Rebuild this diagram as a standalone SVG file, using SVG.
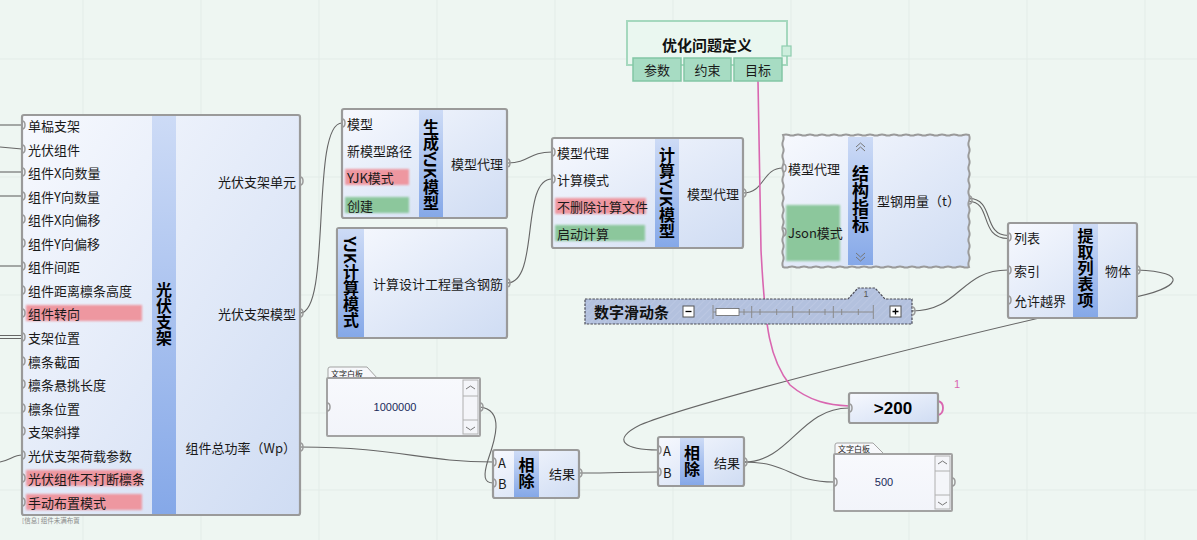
<svg xmlns="http://www.w3.org/2000/svg" width="1197" height="540" viewBox="0 0 1197 540">
<defs>
<linearGradient id="bodyG" x1="0" y1="0" x2="1" y2="1">
<stop offset="0" stop-color="#f7f9fe"/><stop offset="1" stop-color="#cfdcf3"/>
</linearGradient>
<linearGradient id="bandG" x1="0" y1="0" x2="0" y2="1">
<stop offset="0" stop-color="#cddbf6"/><stop offset="1" stop-color="#85a8e8"/>
</linearGradient>
<linearGradient id="panelG" x1="0" y1="0" x2="0" y2="1">
<stop offset="0" stop-color="#f8f9fd"/><stop offset="1" stop-color="#f2f4fa"/>
</linearGradient>
<pattern id="hatch" width="5" height="5" patternUnits="userSpaceOnUse" patternTransform="rotate(45)">
<rect width="5" height="5" fill="#b3c1de"/>
<line x1="0" y1="0" x2="0" y2="5" stroke="#c0cce5" stroke-width="1.2"/>
</pattern>
<filter id="soft" x="-10%" y="-30%" width="120%" height="160%"><feGaussianBlur stdDeviation="1.2"/></filter>
<style>
.t{font-family:"Noto Sans CJK SC","Noto Sans",sans-serif;font-size:13px;fill:#1a1a1a;dominant-baseline:central}
.e{text-anchor:end}
.m{text-anchor:middle}
.ttl{font-family:"Noto Sans CJK SC","Noto Sans",sans-serif;font-weight:bold;font-size:16px;fill:#000;writing-mode:vertical-rl;text-anchor:middle}
.body{fill:url(#bodyG);stroke:#9a9a9a;stroke-width:2.2}
.band{fill:url(#bandG)}
.red{fill:#ee97a0;filter:url(#soft)}
.grn{fill:#8cc79c;filter:url(#soft)}
.port{fill:none;stroke:#9a9a9a;stroke-width:1.5}
.w{fill:none;stroke:#666;stroke-width:1.1}
.grid{stroke:#e3ece8;stroke-width:1}
.tab{fill:#a7dcc3;stroke:#82c6a5;stroke-width:1.5}
.chev{fill:none;stroke:#777;stroke-width:1}
.pbody{fill:url(#panelG);stroke:#a3a3a3;stroke-width:2}
.ptab{fill:#f7f8fb;stroke:#a3a3a3;stroke-width:1}
.small{font-family:"Noto Sans CJK SC","Noto Sans",sans-serif;font-size:8px;fill:#222;dominant-baseline:central}
</style>
</defs>
<rect width="1197" height="540" fill="#eef6f2"/>
<g id="grid">
<line class="grid" x1="83" y1="0" x2="83" y2="540"/><line class="grid" x1="201" y1="0" x2="201" y2="540"/>
<line class="grid" x1="319" y1="0" x2="319" y2="540"/><line class="grid" x1="437" y1="0" x2="437" y2="540"/>
<line class="grid" x1="555" y1="0" x2="555" y2="540"/><line class="grid" x1="673" y1="0" x2="673" y2="540"/>
<line class="grid" x1="791" y1="0" x2="791" y2="540"/><line class="grid" x1="909" y1="0" x2="909" y2="540"/>
<line class="grid" x1="1027" y1="0" x2="1027" y2="540"/><line class="grid" x1="1145" y1="0" x2="1145" y2="540"/>
<line class="grid" x1="0" y1="59" x2="1197" y2="59"/><line class="grid" x1="0" y1="177" x2="1197" y2="177"/>
<line class="grid" x1="0" y1="295" x2="1197" y2="295"/><line class="grid" x1="0" y1="413" x2="1197" y2="413"/>
<line class="grid" x1="0" y1="490" x2="1197" y2="490"/>
</g>

<g id="connectors">
<path class="w" d="M0,125 H22"/>
<path class="w" d="M0,147 L22,149"/>
<path class="w" d="M0,172 H22"/>
<path class="w" d="M0,196 H22"/>
<path class="w" d="M0,266 H22"/>
<path class="w" d="M0,335.5 H22 M0,338.5 H22"/>
<path class="w" d="M0,462 C10,460 14,455 22,455"/>
<path class="w" d="M300,313 C332,313 310,123 342,123"/>
<path class="w" d="M507,163 C530,163 528,152 552,152"/>
<path class="w" d="M507,283 C540,283 520,179 552,179"/>
<path class="w" d="M743,193 C765,193 762,168 783,168"/>
<path class="w" d="M969,198.5 C995,198.5 982,235.5 1008,235.5 M969,201.5 C992,201.5 979,238.5 1008,238.5"/>
<path class="w" d="M912,311 C960,311 960,270 1008,270"/>
<path class="w" d="M1137,270 C1190,272 1182,288 1130,298 C1000,325 700,400 640,425 C610,440 625,450 658,450"/>
<path class="w" d="M300,447 C400,447 420,462 493,462"/>
<path class="w" d="M480,407 C505,410 495,440 488,460 C483,476 484,483 493,483"/>
<path class="w" d="M579,473 C620,473 620,472 658,472"/>
<path class="w" d="M744,462 C790,462 800,408 849,408"/>
<path class="w" d="M744,462 C790,462 790,482 834,482"/>
<path fill="none" stroke="#d966b0" stroke-width="1.6" d="M758,81 L761,250 C765,330 770,360 790,385 C810,402 830,405 849,406"/>
<path fill="none" stroke="#d966b0" stroke-width="1.8" d="M938,401 q5,1 5,7 q0,6 -5,7"/>
<text x="957" y="388" font-family="Liberation Sans, sans-serif" font-size="11" fill="#d966b0" text-anchor="middle">1</text>
</g>

<g id="node-guangfu">
<rect class="body" x="22" y="115" width="278" height="400" rx="2"/>
<rect class="band" x="152" y="116" width="24" height="398"/>
<rect class="red" x="26" y="305" width="116" height="16"/>
<rect class="red" x="26" y="470" width="116" height="16"/>
<rect class="red" x="26" y="494" width="116" height="16"/>
<text class="ttl" x="164" y="314">光伏支架</text>
<text class="t" x="28" y="125">单榀支架</text>
<text class="t" x="28" y="149">光伏组件</text>
<text class="t" x="28" y="172">组件X向数量</text>
<text class="t" x="28" y="196">组件Y向数量</text>
<text class="t" x="28" y="219">组件X向偏移</text>
<text class="t" x="28" y="243">组件Y向偏移</text>
<text class="t" x="28" y="266">组件间距</text>
<text class="t" x="28" y="290">组件距离檩条高度</text>
<text class="t" x="28" y="313">组件转向</text>
<text class="t" x="28" y="337">支架位置</text>
<text class="t" x="28" y="361">檩条截面</text>
<text class="t" x="28" y="384">檩条悬挑长度</text>
<text class="t" x="28" y="408">檩条位置</text>
<text class="t" x="28" y="431">支架斜撑</text>
<text class="t" x="28" y="455">光伏支架荷载参数</text>
<text class="t" x="28" y="478">光伏组件不打断檩条</text>
<text class="t" x="28" y="502">手动布置模式</text>
<text class="t e" x="296" y="181">光伏支架单元</text>
<text class="t e" x="296" y="313">光伏支架模型</text>
<text class="t e" x="296" y="447">组件总功率（Wp）</text>
<path class="port" d="M22,121 q3,0 3,4 q0,4 -3,4 M22,145 q3,0 3,4 q0,4 -3,4 M22,168 q3,0 3,4 q0,4 -3,4 M22,192 q3,0 3,4 q0,4 -3,4 M22,215 q3,0 3,4 q0,4 -3,4 M22,239 q3,0 3,4 q0,4 -3,4 M22,262 q3,0 3,4 q0,4 -3,4 M22,286 q3,0 3,4 q0,4 -3,4 M22,309 q3,0 3,4 q0,4 -3,4 M22,333 q3,0 3,4 q0,4 -3,4 M22,357 q3,0 3,4 q0,4 -3,4 M22,380 q3,0 3,4 q0,4 -3,4 M22,404 q3,0 3,4 q0,4 -3,4 M22,427 q3,0 3,4 q0,4 -3,4 M22,451 q3,0 3,4 q0,4 -3,4 M22,474 q3,0 3,4 q0,4 -3,4 M22,498 q3,0 3,4 q0,4 -3,4"/>
<path class="port" d="M300,177 q3,0 3,4 q0,4 -3,4 M300,309 q3,0 3,4 q0,4 -3,4 M300,443 q3,0 3,4 q0,4 -3,4"/>
<text x="22" y="520" font-family="Noto Sans CJK SC, sans-serif" font-size="6.5" fill="#8a8a8a" dominant-baseline="central">[信息] 组件未满布置</text>
</g>

<g id="node-gen-yjk">
<rect class="body" x="342" y="109" width="165" height="109" rx="2"/>
<rect class="band" x="419" y="110" width="24" height="107"/>
<rect class="red" x="345" y="169" width="64" height="16"/>
<rect class="grn" x="345" y="197" width="64" height="16"/>
<text class="ttl" x="431" y="165">生成YJK模型</text>
<text class="t" x="347" y="123">模型</text>
<text class="t" x="347" y="150">新模型路径</text>
<text class="t" x="347" y="177">YJK模式</text>
<text class="t" x="347" y="205">创建</text>
<text class="t e" x="503" y="163">模型代理</text>
<path class="port" d="M342,119 q3,0 3,4 q0,4 -3,4 M507,159 q3,0 3,4 q0,4 -3,4"/>
</g>

<g id="node-yjk-mode">
<rect class="body" x="337" y="228" width="170" height="110" rx="2"/>
<rect class="band" x="338" y="229" width="26" height="108"/>
<text class="ttl" x="351" y="282">YJK计算模式</text>
<text class="t e" x="503" y="283">计算设计工程量含钢筋</text>
<path class="port" d="M507,279 q3,0 3,4 q0,4 -3,4"/>
</g>

<g id="node-calc-yjk">
<rect class="body" x="552" y="138" width="191" height="110" rx="2"/>
<rect class="band" x="655" y="139" width="24" height="108"/>
<rect class="red" x="555" y="198" width="91" height="16"/>
<rect class="grn" x="555" y="225" width="90" height="16"/>
<text class="ttl" x="667" y="193">计算YJK模型</text>
<text class="t" x="557" y="152">模型代理</text>
<text class="t" x="557" y="179">计算模式</text>
<text class="t" x="557" y="206">不删除计算文件</text>
<text class="t" x="557" y="233">启动计算</text>
<text class="t e" x="739" y="193">模型代理</text>
<path class="port" d="M552,148 q3,0 3,4 q0,4 -3,4 M552,175 q3,0 3,4 q0,4 -3,4 M743,189 q3,0 3,4 q0,4 -3,4"/>
</g>

<g id="node-struct-index">
<path fill="url(#bodyG)" stroke="#9a9a9a" stroke-width="2" d="M783,135 q3,-1.2 6,0 t6,0 t6,0 t6,0 t6,0 t6,0 t6,0 t6,0 t6,0 t6,0 t6,0 t6,0 t6,0 t6,0 t6,0 t6,0 t6,0 t6,0 t6,0 t6,0 t6,0 t6,0 t6,0 t6,0 t6,0 t6,0 t6,0 t6,0 t6,0 t6,0 t6,0 q1.2,3 0,6 t0,6 t0,6 t0,6 t0,6 t0,6 t0,6 t0,6 t0,6 t0,6 t0,6 t0,6 t0,6 t0,6 t0,6 t0,6 t0,6 t0,6 t0,6 t0,6 t0,6 t0,6 q-3,1.2 -6,0 t-6,0 t-6,0 t-6,0 t-6,0 t-6,0 t-6,0 t-6,0 t-6,0 t-6,0 t-6,0 t-6,0 t-6,0 t-6,0 t-6,0 t-6,0 t-6,0 t-6,0 t-6,0 t-6,0 t-6,0 t-6,0 t-6,0 t-6,0 t-6,0 t-6,0 t-6,0 t-6,0 t-6,0 t-6,0 t-6,0 q-1.2,-3 0,-6 t0,-6 t0,-6 t0,-6 t0,-6 t0,-6 t0,-6 t0,-6 t0,-6 t0,-6 t0,-6 t0,-6 t0,-6 t0,-6 t0,-6 t0,-6 t0,-6 t0,-6 t0,-6 t0,-6 t0,-6 t0,-6 Z"/>
<rect class="band" x="848" y="137" width="25" height="128"/>
<rect class="grn" x="786" y="205" width="54" height="56"/>
<path class="chev" d="M856,147 l4.5,-4 l4.5,4 M856,151 l4.5,-4 l4.5,4 M856,253 l4.5,4 l4.5,-4 M856,257 l4.5,4 l4.5,-4"/>
<text class="ttl" x="860.5" y="199" style="font-size:17px">结构指标</text>
<text class="t" x="788" y="168">模型代理</text>
<text class="t" x="788" y="232">Json模式</text>
<text class="t e" x="960" y="200">型钢用量（t）</text>
<path class="port" d="M783,164 q3,0 3,4 q0,4 -3,4 M783,228 q3,0 3,4 q0,4 -3,4 M969,196 q3,0 3,4 q0,4 -3,4"/>
</g>

<g id="node-optimize">
<rect x="627" y="21" width="160" height="44" fill="#eaf7f0" stroke="#a5d8be" stroke-width="2"/>
<rect x="782" y="46" width="9" height="10" fill="#cdeedd" stroke="#8fcdb0" stroke-width="1.2"/>
<text x="707" y="44" font-family="Noto Sans CJK SC, sans-serif" font-weight="bold" font-size="15" fill="#111" text-anchor="middle" dominant-baseline="central">优化问题定义</text>
<rect class="tab" x="633" y="58" width="48" height="23"/>
<rect class="tab" x="684" y="58" width="47" height="23"/>
<rect class="tab" x="734" y="58" width="48" height="23"/>
<text class="t m" x="657" y="69">参数</text>
<text class="t m" x="707.5" y="69">约束</text>
<text class="t m" x="758" y="69">目标</text>
</g>

<g id="node-slider">
<path d="M585,299 H848 L858,288 H875 L885,299 H912 V324 H585 Z" fill="url(#hatch)" stroke="#4a4a55" stroke-width="1.2" stroke-dasharray="2.5,1.2"/>
<text x="594" y="311" font-family="Noto Sans CJK SC, sans-serif" font-weight="bold" font-size="15" fill="#111" dominant-baseline="central">数字滑动条</text>
<rect x="683" y="306" width="11" height="11" fill="#fff" stroke="#555" stroke-width="1"/>
<line x1="685.5" y1="311.5" x2="691.5" y2="311.5" stroke="#000" stroke-width="1.3"/>
<rect x="890" y="306" width="11" height="11" fill="#fff" stroke="#555" stroke-width="1"/>
<path d="M892.5,311.5 h6 M895.5,308.5 v6" stroke="#000" stroke-width="1.3"/>
<line x1="713" y1="312" x2="873" y2="312" stroke="#8a8a8a" stroke-width="1"/>
<path stroke="#8a8a8a" stroke-width="1" d="M713,305 v14 M751.7,306 v12 M792.7,306 v12 M833.3,306 v12 M873.3,305 v14 M744,309 v6 M760,309 v6 M776.7,309 v6 M809.3,309 v6 M825,309 v6 M841.7,309 v6 M858.3,309 v6"/>
<rect x="716" y="308.5" width="23" height="7" fill="#fff" stroke="#666" stroke-width="0.8"/>
<text x="866" y="294" font-family="Liberation Sans, sans-serif" font-size="9" fill="#555" text-anchor="middle" dominant-baseline="central">1</text>
<path class="port" d="M912,307 q3,0 3,4 q0,4 -3,4"/>
</g>

<g id="node-list-item">
<rect class="body" x="1008" y="223" width="129" height="95" rx="2"/>
<rect class="band" x="1073" y="224" width="25" height="93"/>
<text class="ttl" x="1085.5" y="268">提取列表项</text>
<text class="t" x="1014" y="237">列表</text>
<text class="t" x="1014" y="270">索引</text>
<text class="t" x="1014" y="300">允许越界</text>
<text class="t e" x="1131" y="270">物体</text>
<path class="port" d="M1008,233 q3,0 3,4 q0,4 -3,4 M1008,266 q3,0 3,4 q0,4 -3,4 M1008,296 q3,0 3,4 q0,4 -3,4 M1137,266 q3,0 3,4 q0,4 -3,4"/>
</g>

<g id="panel-1000000">
<path class="ptab" d="M328,379 V369 q0,-2 2,-2 H367 L378,379 Z"/>
<text class="small" x="331" y="373">文字白板</text>
<rect class="pbody" x="327" y="378" width="153" height="58" rx="1"/>
<rect x="463" y="380" width="15" height="54" fill="#f4f5f9" stroke="#b0b0b0" stroke-width="1"/>
<path stroke="#b0b0b0" stroke-width="1" d="M463,396 h15 M463,420 h15"/>
<path class="chev" d="M466,389 l4.5,-3 l4.5,3 M466,427 l4.5,3 l4.5,-3"/>
<text x="395" y="407" font-family="Liberation Sans, sans-serif" font-size="11" fill="#1a2a5a" text-anchor="middle" dominant-baseline="central">1000000</text>
<path class="port" d="M327,403 q3,0 3,4 q0,4 -3,4 M480,403 q3,0 3,4 q0,4 -3,4"/>
</g>

<g id="panel-500">
<path class="ptab" d="M835,454 V445 q0,-2 2,-2 H873 L884,454 Z"/>
<text class="small" x="838" y="448">文字白板</text>
<rect class="pbody" x="834" y="454" width="118" height="57" rx="1"/>
<rect x="935" y="456" width="15" height="53" fill="#f4f5f9" stroke="#b0b0b0" stroke-width="1"/>
<path stroke="#b0b0b0" stroke-width="1" d="M935,471 h15 M935,495 h15"/>
<path class="chev" d="M938,464 l4.5,-3 l4.5,3 M938,502 l4.5,3 l4.5,-3"/>
<text x="884" y="482" font-family="Liberation Sans, sans-serif" font-size="11" fill="#1a2a5a" text-anchor="middle" dominant-baseline="central">500</text>
<path class="port" d="M834,478 q3,0 3,4 q0,4 -3,4 M952,478 q3,0 3,4 q0,4 -3,4"/>
</g>

<g id="node-divide-1">
<rect class="body" x="493" y="450" width="86" height="48" rx="2"/>
<rect class="band" x="514" y="451" width="25" height="46"/>
<text class="ttl" x="526.5" y="473">相除</text>
<text class="t" x="498" y="462">A</text>
<text class="t" x="498" y="483">B</text>
<text class="t e" x="575" y="473">结果</text>
<path class="port" d="M493,458 q3,0 3,4 q0,4 -3,4 M493,479 q3,0 3,4 q0,4 -3,4 M579,469 q3,0 3,4 q0,4 -3,4"/>
</g>

<g id="node-divide-2">
<rect class="body" x="658" y="437" width="86" height="49" rx="2"/>
<rect class="band" x="680" y="438" width="24" height="47"/>
<text class="ttl" x="692" y="461">相除</text>
<text class="t" x="663" y="450">A</text>
<text class="t" x="663" y="472">B</text>
<text class="t e" x="740" y="462">结果</text>
<path class="port" d="M658,446 q3,0 3,4 q0,4 -3,4 M658,468 q3,0 3,4 q0,4 -3,4 M744,458 q3,0 3,4 q0,4 -3,4"/>
</g>

<g id="node-gt200">
<rect class="body" x="849" y="393" width="89" height="30" rx="2"/>
<text x="893" y="408" font-family="Liberation Sans, sans-serif" font-weight="bold" font-size="17" fill="#000" text-anchor="middle" dominant-baseline="central">&gt;200</text>
<path class="port" d="M849,404 q3,0 3,4 q0,4 -3,4"/>
</g>
</svg>
